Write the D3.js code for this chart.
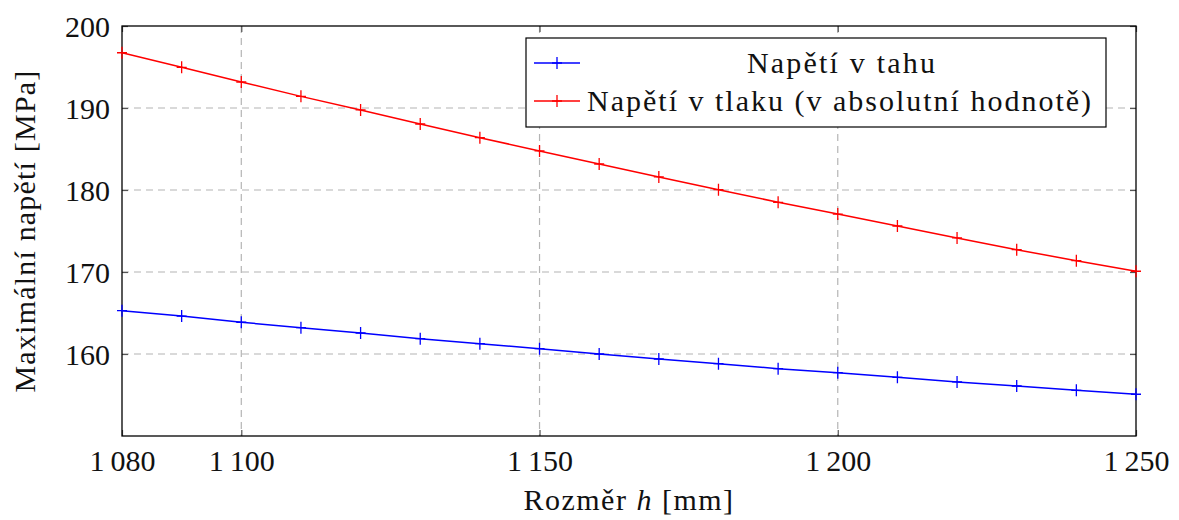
<!DOCTYPE html>
<html><head><meta charset="utf-8">
<script src="https://cdn.jsdelivr.net/npm/d3@7"></script>
<style>body{margin:0;background:#fff}svg{display:block}</style>
</head><body>
<svg id="c" width="1179" height="520"></svg>
<script>
const xValues = [1080,1090,1100,1110,1120,1130,1140,1150,1160,1170,1180,1190,1200,1210,1220,1230,1240,1250];
const tahu  = [165.28,164.63,163.87,163.21,162.56,161.87,161.26,160.65,160.0,159.39,158.82,158.21,157.72,157.16,156.59,156.1,155.57,155.09];
const tlaku = [196.74,194.96,193.17,191.42,189.76,188.05,186.38,184.76,183.17,181.59,180.04,178.5,177.07,175.61,174.15,172.72,171.38,170.09];
const xTicks = [1080,1100,1150,1200,1250];
const yTicks = [160,170,180,190,200];
const seriesNames = ["Napětí v tahu","Napětí v tlaku (v absolutní hodnotě)"];
const seriesColors = ["#0000ff","#ff0000"];
const xLabel = "Rozměr ";
const xLabelVar = "h";
const xLabelUnit = " [mm]";
const yLabel = "Maximální napětí [MPa]";

const svg = d3.select("#c");
const L=122,R=1136,T=26,B=436;
const x = d3.scaleLinear().domain([1080,1250]).range([L,R]);
const y = d3.scaleLinear().domain([150,200]).range([B,T]);
const font = "'Liberation Serif','Times New Roman','DejaVu Serif',serif";
const fs = 30;

// grid
const grid = svg.append("g").attr("stroke","#b4b4b4").attr("stroke-width",1.2).attr("stroke-dasharray","7,5");
xTicks.filter(d=>d>1080&&d<1250).forEach(d=>grid.append("line").attr("x1",x(d)).attr("x2",x(d)).attr("y1",T).attr("y2",B));
yTicks.filter(d=>d>150&&d<200).forEach(d=>grid.append("line").attr("y1",y(d)).attr("y2",y(d)).attr("x1",L).attr("x2",R));

const fmt = d=>{const s=String(d);return s.length>3? s.slice(0,s.length-3)+"\u2009"+s.slice(-3):s;};
const axB = svg.append("g").attr("transform",`translate(0,${B})`).call(d3.axisBottom(x).tickValues(xTicks).tickSize(-6).tickPadding(14).tickFormat(fmt));
const axT = svg.append("g").attr("transform",`translate(0,${T})`).call(d3.axisTop(x).tickValues(xTicks).tickSize(-6).tickFormat(""));
const axLft = svg.append("g").attr("transform",`translate(${L},0)`).call(d3.axisLeft(y).tickValues(yTicks).tickSize(-6).tickPadding(12));
const axRt = svg.append("g").attr("transform",`translate(${R},0)`).call(d3.axisRight(y).tickValues(yTicks).tickSize(-6).tickFormat(""));
[axB,axT,axLft,axRt].forEach(a=>{a.select(".domain").remove();a.selectAll(".tick line").attr("stroke","#555").attr("stroke-width",1.2);
  a.selectAll("text").attr("font-family",font).attr("font-size",fs).attr("fill","#111");});
axB.selectAll("text").attr("dy","0.71em");
axLft.selectAll("text").attr("dy","0.34em");

svg.append("rect").attr("x",L).attr("y",T).attr("width",R-L).attr("height",B-T).attr("fill","none").attr("stroke","#000").attr("stroke-width",1.3);

const line = d3.line().x((d,i)=>x(xValues[i])).y(d=>y(d));
[tahu,tlaku].forEach((s,k)=>{
  const g = svg.append("g");
  g.append("path").datum(s).attr("d",line).attr("fill","none").attr("stroke",seriesColors[k]).attr("stroke-width",1.5);
  g.selectAll("path.m").data(s).join("path").attr("class","m")
   .attr("d",(d,i)=>{const px=x(xValues[i]),py=y(d);return `M${px-5},${py}H${px+5}M${px},${py-6}V${py+6}`;})
   .attr("stroke",seriesColors[k]).attr("stroke-width",1.3);
});

// legend
const lg = svg.append("g");
lg.append("rect").attr("x",526).attr("y",38).attr("width",580).attr("height",89).attr("fill","#fff").attr("stroke","#000").attr("stroke-width",1.2);
const rows=[63,101];
seriesNames.forEach((n,k)=>{
  const yy=rows[k];
  lg.append("line").attr("x1",534).attr("x2",580).attr("y1",yy).attr("y2",yy).attr("stroke",seriesColors[k]).attr("stroke-width",1.5);
  lg.append("path").attr("d",`M552,${yy}H562M557,${yy-6}V${yy+6}`).attr("stroke",seriesColors[k]).attr("stroke-width",1.3);
  lg.append("text").attr("x",k===0?842:587).attr("y",yy).attr("dy","0.34em").attr("text-anchor",k===0?"middle":"start")
    .attr("font-family",font).attr("font-size",fs).attr("letter-spacing",k===0?"2.2px":"2px").attr("fill","#111").text(n);
});

const xl = svg.append("text").attr("x",(L+R)/2).attr("y",500).attr("dy","0.34em").attr("text-anchor","middle")
  .attr("font-family",font).attr("font-size",fs).attr("letter-spacing","1.5px").attr("fill","#111");
xl.append("tspan").text(xLabel);
xl.append("tspan").attr("font-style","italic").text(xLabelVar);
xl.append("tspan").text(xLabelUnit);
svg.append("text").attr("transform",`translate(25,${(T+B)/2}) rotate(-90)`).attr("dy","0.34em").attr("text-anchor","middle")
  .attr("font-family",font).attr("font-size",fs).attr("letter-spacing","1.2px").attr("fill","#111").text(yLabel);
</script>
</body></html>
